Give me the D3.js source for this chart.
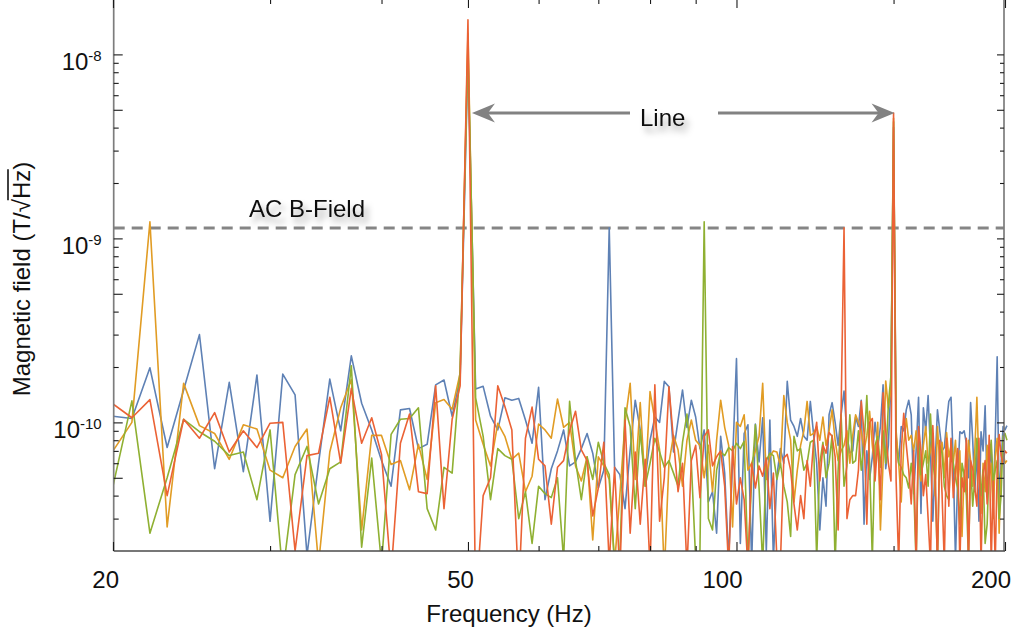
<!DOCTYPE html>
<html>
<head>
<meta charset="utf-8">
<script src="https://cdn.jsdelivr.net/npm/d3@7"></script>
<style>
  html, body { margin: 0; padding: 0; background: #fff; }
  svg { display: block; font-family: "Liberation Sans", Arial, Helvetica, sans-serif; }
</style>
</head>
<body>
<svg id="chart" width="1017" height="635"></svg>
<script>
// Frequency bins, 1 Hz apart
const freqFirst = 20;
const freqLast = 201;
const frequencies = d3.range(freqFirst, freqLast + 1);

// Amplitude spectral density per channel, in pT/√Hz (one value per bin, 20–201 Hz)
const channel1 = [
  108, 105, 198, 73, 150, 300, 56, 165, 54, 181,
  29, 183, 141, 19, 60, 172, 90, 230, 127, 91,
  62, 45, 117, 119, 72, 76, 160, 170, 108, 175,
  9500, 152, 157, 108, 91, 136, 132, 135, 103, 77,
  155, 38, 56, 70, 91, 58, 61, 72, 87, 68,
  44, 55, 1140, 57, 52, 34, 71, 132, 91, 49,
  80, 107, 100, 167, 156, 69, 103, 150, 94, 132,
  107, 72, 91, 37, 42, 25, 84, 53, 18, 62,
  222, 22, 87, 97, 17, 98, 61, 106, 20, 103,
  18, 51, 72, 60, 167, 103, 95, 84, 105, 84,
  80, 130, 87, 60, 26, 50, 35, 110, 128, 100,
  75, 110, 148, 85, 68, 70, 107, 95, 132, 28,
  70, 49, 65, 100, 73, 95, 160, 56, 75, 165,
  4000, 84, 60, 95, 90, 117, 132, 110, 41, 70,
  137, 32, 120, 90, 140, 70, 29, 60, 117, 90,
  70, 73, 100, 130, 137, 60, 18, 50, 89, 87,
  90, 77, 50, 128, 80, 42, 70, 29, 89, 70,
  123, 42, 55, 73, 35, 80, 227, 37, 60, 95,
  91, 96
];
const channel2 = [
  70, 100, 1230, 27, 163, 96, 87, 63, 97, 92,
  55, 50, 74, 92, 17, 69, 120, 171, 26, 85,
  85, 59, 62, 43, 76, 49, 128, 133, 118, 185,
  13000, 103, 76, 58, 99, 84, 63, 68, 42, 51,
  98, 91, 82, 134, 94, 100, 58, 48, 65, 23,
  65, 58, 49, 17, 40, 100, 163, 49, 128, 45,
  147, 103, 71, 15, 60, 85, 71, 45, 80, 103,
  80, 75, 50, 75, 42, 80, 132, 94, 75, 27,
  100, 95, 110, 55, 60, 70, 84, 163, 49, 65,
  70, 69, 58, 140, 100, 80, 37, 55, 75, 90,
  130, 85, 87, 95, 80, 107, 75, 90, 117, 80,
  62, 70, 75, 90, 60, 85, 110, 100, 90, 70,
  85, 115, 75, 55, 100, 26, 60, 168, 120, 150,
  4500, 90, 60, 37, 75, 105, 80, 85, 70, 90,
  60, 48, 75, 95, 60, 70, 85, 40, 95, 60,
  78, 50, 88, 65, 75, 60, 80, 45, 70, 24,
  55, 42, 80, 62, 45, 70, 137, 55, 32, 60,
  42, 75, 50, 60, 30, 65, 82, 25, 55, 70,
  60, 62
];
const channel3 = [
  45, 131, 25, 50, 104, 89, 79, 66, 69, 38,
  91, 15, 52, 74, 36, 56, 61, 203, 21, 64,
  17, 86, 104, 105, 120, 34, 26, 57, 53, 193,
  11000, 136, 84, 38, 72, 66, 63, 30, 42, 22,
  45, 41, 39, 50, 18, 130, 62, 38, 65, 49,
  78, 60, 52, 17, 19, 120, 95, 34, 91, 45,
  60, 82, 69, 57, 62, 53, 45, 78, 111, 60,
  18, 20, 1230, 30, 26, 55, 69, 66, 73, 70,
  77, 72, 79, 17, 49, 97, 44, 17, 62, 68,
  66, 49, 60, 45, 37, 24, 84, 70, 72, 55,
  60, 78, 80, 18, 60, 78, 50, 60, 85, 17,
  55, 110, 45, 58, 110, 60, 62, 90, 55, 75,
  140, 60, 18, 75, 84, 57, 90, 60, 125, 180,
  4300, 75, 60, 57, 52, 50, 44, 60, 45, 17,
  80, 52, 60, 70, 45, 111, 60, 50, 17, 75,
  68, 45, 40, 38, 80, 60, 50, 44, 28, 60,
  52, 40, 18, 60, 35, 50, 82, 60, 40, 55,
  22, 28, 60, 80, 48, 55, 62, 30, 40, 84,
  87, 80
];
const channel4 = [
  126, 106, 133, 40, 104, 82, 113, 69, 90, 73,
  99, 100, 20, 66, 68, 137, 60, 153, 77, 106,
  67, 15, 77, 111, 42, 41, 158, 34, 104, 158,
  15400, 10, 40, 50, 158, 122, 91, 12, 82, 121,
  63, 58, 28, 57, 62, 90, 115, 71, 62, 31,
  44, 78, 17, 57, 15, 103, 25, 69, 28, 63,
  16, 160, 29, 50, 156, 80, 42, 60, 16, 62,
  75, 39, 84, 91, 58, 65, 70, 45, 16, 74,
  36, 50, 38, 16, 60, 44, 58, 51, 64, 34,
  53, 18, 17, 64, 67, 55, 36, 26, 40, 30,
  62, 45, 78, 100, 48, 75, 68, 88, 84, 65,
  26, 115, 1140, 30, 38, 40, 40, 55, 130, 88,
  28, 100, 105, 48, 80, 38, 145, 90, 60, 48,
  4800, 48, 17, 70, 112, 76, 55, 36, 70, 17,
  95, 70, 40, 52, 30, 17, 96, 50, 17, 80,
  41, 17, 82, 35, 82, 39, 55, 72, 17, 50,
  42, 82, 17, 62, 56, 44, 35, 82, 17, 52,
  62, 36, 85, 17, 48, 17, 55, 86, 66, 60,
  70, 68
];
const channelColors = ["#5e81b5", "#e19c24", "#8fb032", "#eb6235"];
const pT = 1e-12;

// Reference level of the applied AC field, and the mains harmonics marked "Line"
const acFieldLevel = 1.14e-9;
const mainsMarks = [50, 150];
const mainsPeakLevel = 4.8e-9;

// Axis ticks
const xMajorTicks = [20, 50, 100, 200];
const xMinorTicks = [30, 40, 60, 70, 80, 90, 150];
const yExponents = [-10, -9, -8];
const yMidTicks = [5e-11, 5e-10, 5e-9];
const yMinorTicks = [3e-11, 4e-11, 6e-11, 7e-11, 8e-11, 9e-11,
                     2e-10, 3e-10, 4e-10, 6e-10, 7e-10, 8e-10, 9e-10,
                     2e-9, 3e-9, 4e-9, 6e-9, 7e-9, 8e-9, 9e-9];

(function draw() {
  const svg = d3.select("#chart");
  const frameLeft = 113.7, frameRight = 1004, frameTop = -1, frameBottom = 551;

  const x = d3.scaleLog().domain([20, 200]).range([113, 1005]);
  const y = d3.scaleLog().domain([2e-11, 2e-8]).range([frameBottom, frameTop]);

  const defs = svg.append("defs");
  defs.append("clipPath").attr("id", "plotClip")
    .append("rect").attr("x", 113).attr("y", frameTop).attr("width", 895).attr("height", frameBottom - frameTop);

  const shadow = defs.append("filter").attr("id", "softShadow")
    .attr("x", "-20%").attr("y", "-60%").attr("width", "150%").attr("height", "260%");
  shadow.append("feGaussianBlur").attr("in", "SourceAlpha").attr("stdDeviation", 3.2).attr("result", "blur");
  shadow.append("feOffset").attr("in", "blur").attr("dx", 4).attr("dy", 6).attr("result", "off");
  shadow.append("feFlood").attr("flood-color", "#000").attr("flood-opacity", 0.32).attr("result", "col");
  shadow.append("feComposite").attr("in", "col").attr("in2", "off").attr("operator", "in").attr("result", "sh");
  const merge = shadow.append("feMerge");
  merge.append("feMergeNode").attr("in", "sh");
  merge.append("feMergeNode").attr("in", "SourceGraphic");

  // Dashed AC field level
  svg.append("line")
    .attr("x1", frameLeft).attr("x2", frameRight)
    .attr("y1", y(acFieldLevel)).attr("y2", y(acFieldLevel))
    .attr("stroke", "#858585").attr("stroke-width", 3)
    .attr("stroke-dasharray", "11,7");

  // Spectra
  const line = d3.line().x(d => x(d[0])).y(d => y(d[1]));
  const plotArea = svg.append("g").attr("clip-path", "url(#plotClip)");
  [channel1, channel2, channel3, channel4].forEach((vals, k) => {
    plotArea.append("path")
      .datum(frequencies.map((f, i) => [f, vals[i] * pT]))
      .attr("d", line)
      .attr("fill", "none")
      .attr("stroke", channelColors[k])
      .attr("stroke-width", 1.6)
      .attr("stroke-linejoin", "round");
  });

  // Frame
  const frame = svg.append("g").attr("stroke-width", 1.7).attr("fill", "none");
  frame.append("line").attr("x1", frameLeft).attr("x2", frameLeft).attr("y1", frameTop).attr("y2", frameBottom).attr("stroke", "#7d7d7d");
  frame.append("line").attr("x1", frameRight).attr("x2", frameRight).attr("y1", frameTop).attr("y2", frameBottom).attr("stroke", "#7d7d7d");
  frame.append("line").attr("x1", frameLeft).attr("x2", frameRight + 1).attr("y1", frameBottom).attr("y2", frameBottom).attr("stroke", "#4a4a4a");
  frame.append("line").attr("x1", frameLeft).attr("x2", frameRight + 1).attr("y1", frameTop).attr("y2", frameTop).attr("stroke", "#7d7d7d");

  function tickStyle(g) {
    g.select(".domain").remove();
    g.selectAll(".tick line").attr("stroke", "#1a1a1a").attr("stroke-width", 1.1);
  }

  // Bottom axis
  svg.append("g").attr("transform", `translate(0,${frameBottom})`)
    .call(d3.axisBottom(x).tickValues(xMajorTicks).tickSizeInner(-9).tickSizeOuter(0).tickPadding(20).tickFormat(d3.format("d")))
    .call(tickStyle)
    .call(g => g.selectAll(".tick text")
      .attr("fill", "#111").attr("font-size", 24)
      .attr("text-anchor", "end").attr("dx", 5.5).attr("dy", "0.71em"));
  svg.append("g").attr("transform", `translate(0,${frameBottom})`)
    .call(d3.axisBottom(x).tickValues(xMinorTicks).tickSizeInner(-5).tickSizeOuter(0).tickFormat(""))
    .call(tickStyle);

  // Top axis (ticks only)
  svg.append("g").attr("transform", `translate(0,${frameTop})`)
    .call(d3.axisTop(x).tickValues(xMajorTicks).tickSizeInner(-9).tickSizeOuter(0).tickFormat(""))
    .call(tickStyle);
  svg.append("g").attr("transform", `translate(0,${frameTop})`)
    .call(d3.axisTop(x).tickValues(xMinorTicks).tickSizeInner(-5).tickSizeOuter(0).tickFormat(""))
    .call(tickStyle);

  // Left axis with power-of-ten labels
  const yMajor = yExponents.map(e => Math.pow(10, e));
  svg.append("g").attr("transform", `translate(${frameLeft},0)`)
    .call(d3.axisLeft(y).tickValues(yMajor).tickSizeInner(-9).tickSizeOuter(0).tickPadding(12))
    .call(tickStyle)
    .call(g => g.selectAll(".tick text").each(function (d, i) {
      const t = d3.select(this);
      t.text(null).attr("fill", "#111").attr("font-size", 24).attr("text-anchor", "end").attr("dy", 15.5);
      t.append("tspan").text("10");
      t.append("tspan").attr("font-size", 15).attr("dy", -9).text(String(yExponents[i]));
    }));
  svg.append("g").attr("transform", `translate(${frameLeft},0)`)
    .call(d3.axisLeft(y).tickValues(yMidTicks).tickSizeInner(-9).tickSizeOuter(0).tickFormat(""))
    .call(tickStyle);
  svg.append("g").attr("transform", `translate(${frameLeft},0)`)
    .call(d3.axisLeft(y).tickValues(yMinorTicks).tickSizeInner(-5).tickSizeOuter(0).tickFormat(""))
    .call(tickStyle);

  // Right axis (ticks only)
  svg.append("g").attr("transform", `translate(${frameRight},0)`)
    .call(d3.axisRight(y).tickValues(yMajor.concat(yMidTicks)).tickSizeInner(-7).tickSizeOuter(0).tickFormat(""))
    .call(tickStyle);
  svg.append("g").attr("transform", `translate(${frameRight},0)`)
    .call(d3.axisRight(y).tickValues(yMinorTicks).tickSizeInner(-4).tickSizeOuter(0).tickFormat(""))
    .call(tickStyle);

  // Axis titles
  svg.append("text")
    .attr("x", 509).attr("y", 621.5)
    .attr("text-anchor", "middle").attr("font-size", 24).attr("fill", "#111")
    .text("Frequency (Hz)");

  const yLabel = "Magnetic field (T/\u221AHz)";
  const yTitle = svg.append("g").attr("transform", "translate(29.5,279) rotate(-90)");
  const yTitleText = yTitle.append("text")
    .attr("text-anchor", "middle").attr("font-size", 24).attr("fill", "#111")
    .text(yLabel);
  const node = yTitleText.node();
  const iRoot = yLabel.indexOf("\u221A");
  const barStart = node.getEndPositionOfChar(iRoot).x - 1.2;
  const barEnd = node.getEndPositionOfChar(yLabel.length - 2).x + 0.5;
  yTitle.append("line")
    .attr("x1", barStart).attr("x2", barEnd)
    .attr("y1", -21.5).attr("y2", -21.5)
    .attr("stroke", "#111").attr("stroke-width", 1.6);

  // Mains "Line" annotation with double arrow
  const arrowY = y(mainsPeakLevel);
  const arrowGrey = "#828282";
  const tipL = x(mainsMarks[0]) + 4, tipR = x(mainsMarks[1]) + 1;
  const headLen = 23, headHalf = 9.5, notch = 7;
  svg.append("line").attr("x1", tipL + 10).attr("x2", 630).attr("y1", arrowY).attr("y2", arrowY)
    .attr("stroke", arrowGrey).attr("stroke-width", 3);
  svg.append("line").attr("x1", 718).attr("x2", tipR - 10).attr("y1", arrowY).attr("y2", arrowY)
    .attr("stroke", arrowGrey).attr("stroke-width", 3);
  svg.append("path")
    .attr("d", `M${tipL},${arrowY} L${tipL + headLen},${arrowY - headHalf} L${tipL + headLen - notch},${arrowY} L${tipL + headLen},${arrowY + headHalf} Z`)
    .attr("fill", arrowGrey);
  svg.append("path")
    .attr("d", `M${tipR},${arrowY} L${tipR - headLen},${arrowY - headHalf} L${tipR - headLen + notch},${arrowY} L${tipR - headLen},${arrowY + headHalf} Z`)
    .attr("fill", arrowGrey);

  svg.append("text")
    .attr("x", 640).attr("y", 125.5)
    .attr("font-size", 24).attr("fill", "#111")
    .attr("filter", "url(#softShadow)")
    .text("Line");

  svg.append("text")
    .attr("x", 249).attr("y", 216.5)
    .attr("font-size", 24).attr("fill", "#111")
    .attr("filter", "url(#softShadow)")
    .text("AC B-Field");
})();
</script>
</body>
</html>
